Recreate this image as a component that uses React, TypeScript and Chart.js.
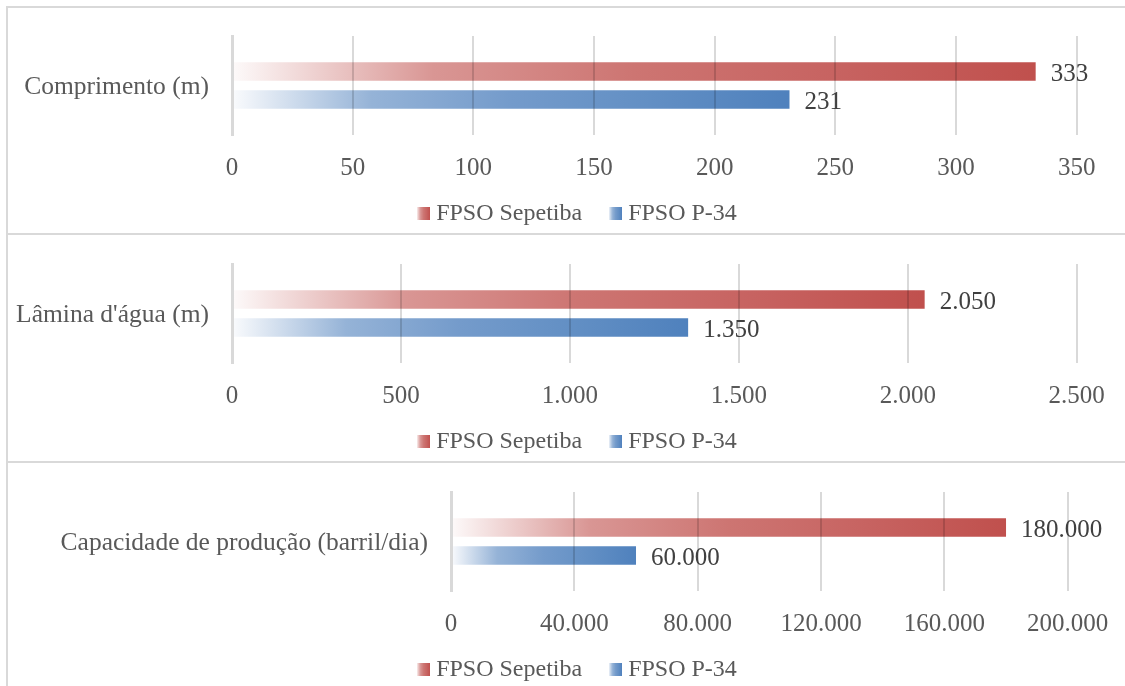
import React, { useEffect, useRef } from 'react';
import { Chart, registerables } from 'chart.js';

Chart.register(...registerables);

// ---- data ----
const categories = ['Comprimento (m)', "Lâmina d'água (m)", 'Capacidade de produção (barril/dia)'];
const seriesNames = ['FPSO Sepetiba', 'FPSO P-34'];
const sepetibaValues = [333, 2050, 180000];
const p34Values = [231, 1350, 60000];
const axisMax = [350, 2500, 200000];
const axisStep = [50, 500, 40000];

// ---- styling ----
const FONT = "'Liberation Serif', 'Times New Roman', serif";
const FONT_SIZE = 25;
const CATEGORY_FONT_SIZE = 25.5;
const LEGEND_FONT_SIZE = 24;
const seriesRGB: number[][] = [
  [192, 80, 77],
  [79, 129, 189],
];
// fade from almost white at the base to the full colour at the bar end
const FADE: number[][] = [
  [0, 0.03],
  [0.25, 0.6],
  [0.5, 0.79],
  [0.75, 0.89],
  [1, 1],
];

// per-panel geometry inside its canvas
const PANEL_TOPS = [7, 235, 463];
const CANVAS_W = 1132;
const CANVAS_H = 229;
const RIGHT_GAP = [63.3, 63.3, 72.3];
const Y_AXIS_W = [224, 224, 443];

const fmt = (v: number) => String(v).replace(/\B(?=(\d{3})+(?!\d))/g, '.');
const mix = (rgb: number[], a: number) =>
  `rgb(${rgb.map((c) => Math.round(255 - a * (255 - c))).join(',')})`;

// legend marker: a 13px faded square sitting at the right of a 25px wide image
function legendSwatch(rgb: number[]) {
  const c = document.createElement('canvas');
  c.width = 25;
  c.height = 13;
  const g = c.getContext('2d')!;
  const grad = g.createLinearGradient(12, 0, 25, 0);
  FADE.forEach(([p, a]) => grad.addColorStop(p, mix(rgb, Math.max(a, 0.15))));
  g.fillStyle = grad;
  g.fillRect(12, 0, 13, 13);
  return c;
}

const barFill = (s: number) => (ctx: any) => {
  const rgb = seriesRGB[s];
  const chart = ctx.chart;
  const xs = chart.scales && chart.scales.x;
  if (ctx.type !== 'data' || !xs || !chart.chartArea || typeof ctx.raw !== 'number') return mix(rgb, 1);
  const x0 = xs.getPixelForValue(0);
  const x1 = xs.getPixelForValue(ctx.raw);
  const g = chart.ctx.createLinearGradient(x0, 0, x1, 0);
  FADE.forEach(([p, a]) => g.addColorStop(p, mix(rgb, a)));
  return g;
};

// value written just past the end of each bar
const valueLabels = {
  id: 'valueLabels',
  afterDraw(chart: any) {
    const { ctx } = chart;
    ctx.save();
    ctx.font = `${FONT_SIZE}px ${FONT}`;
    ctx.fillStyle = '#404040';
    ctx.textAlign = 'left';
    ctx.textBaseline = 'middle';
    chart.data.datasets.forEach((ds: any, di: number) => {
      chart.getDatasetMeta(di).data.forEach((el: any, j: number) => {
        ctx.fillText(fmt(ds.data[j]), el.x + 15, el.y + 3);
      });
    });
    ctx.restore();
  },
};

function Panel({ index }: { index: number }) {
  const ref = useRef<HTMLCanvasElement>(null);

  useEffect(() => {
    if (!ref.current) return;
    const font = { family: FONT, size: FONT_SIZE };
    const swatches = seriesRGB.map(legendSwatch);
    const chart = new Chart(ref.current, {
      type: 'bar',
      data: {
        labels: [categories[index]],
        datasets: [
          {
            label: seriesNames[0],
            data: [sepetibaValues[index]],
            backgroundColor: barFill(0),
            borderWidth: 0,
            categoryPercentage: 0.5625,
            barPercentage: 0.667,
            xAxisID: 'x',
            yAxisID: 'y',
          },
          {
            label: seriesNames[1],
            data: [p34Values[index]],
            backgroundColor: barFill(1),
            borderWidth: 0,
            categoryPercentage: 0.5625,
            barPercentage: 0.667,
            xAxisID: 'x',
            yAxisID: 'y',
          },
        ],
      },
      options: {
        indexAxis: 'y',
        responsive: false,
        animation: false,
        layout: { padding: { left: 0, right: 0, top: 29, bottom: 0.5 } },
        scales: {
          x: {
            min: 0,
            max: axisMax[index],
            ticks: {
              stepSize: axisStep[index],
              callback: (v: any) => fmt(Number(v)),
              color: '#595959',
              font: { ...font, lineHeight: 1 },
              padding: 20.5,
              maxRotation: 0,
              autoSkip: false,
            },
            grid: {
              color: (c: any) => (c.tick && c.tick.value === 0 ? 'rgba(0,0,0,0)' : 'rgba(0,0,0,0.15)'),
              lineWidth: 2,
              drawTicks: false,
              z: 1,
            },
            border: { display: false },
            afterFit: (s: any) => {
              s.height = 45.5;
            },
          },
          y: {
            ticks: { color: '#595959', font: { family: FONT, size: CATEGORY_FONT_SIZE }, padding: 0, labelOffset: 2 },
            grid: { color: 'rgba(0,0,0,0)', drawTicks: true, tickLength: 23 },
            border: { display: true, color: '#d9d9d9', width: 3, z: 2 },
            afterFit: (s: any) => {
              s.width = Y_AXIS_W[index];
            },
          },
          // empty right-hand axis keeping the plot clear of the panel's right side
          spacer: {
            type: 'category',
            position: 'right',
            display: true,
            ticks: { display: false },
            grid: { display: false, drawTicks: false },
            border: { display: false },
            afterFit: (s: any) => {
              s.width = RIGHT_GAP[index];
            },
          },
        },
        plugins: {
          legend: {
            position: 'bottom',
            labels: {
              usePointStyle: true,
              pointStyleWidth: 13,
              padding: 21,
              color: '#595959',
              font: { family: FONT, size: LEGEND_FONT_SIZE },
              generateLabels: (c: any) => {
                const items = (Chart.defaults.plugins.legend.labels as any).generateLabels(c);
                items.forEach((it: any, i: number) => {
                  it.pointStyle = swatches[i];
                  it.fontColor = '#595959';
                });
                return items;
              },
            },
          },
          tooltip: { enabled: false },
        },
      } as any,
      plugins: [valueLabels],
    });
    return () => chart.destroy();
  }, [index]);

  return (
    <canvas
      ref={ref}
      width={CANVAS_W}
      height={CANVAS_H}
      style={{ position: 'absolute', left: 8, top: PANEL_TOPS[index], width: CANVAS_W, height: CANVAS_H }}
    />
  );
}

const lineStyle = (left: number, top: number, width: number, height: number): React.CSSProperties => ({
  position: 'absolute',
  left,
  top,
  width,
  height,
  background: '#d9d9d9',
  zIndex: 2,
});

export default function App() {
  return (
    <div
      style={{
        position: 'fixed',
        left: 0,
        top: 0,
        width: 1125,
        height: 686,
        overflow: 'hidden',
        background: '#ffffff',
      }}
    >
      {[0, 1, 2].map((i) => (
        <Panel key={i} index={i} />
      ))}
      <div style={lineStyle(6, 6, 1200, 2)} />
      <div style={lineStyle(6, 233, 1200, 2)} />
      <div style={lineStyle(6, 461, 1200, 2)} />
      <div style={lineStyle(6, 6, 2, 700)} />
    </div>
  );
}
